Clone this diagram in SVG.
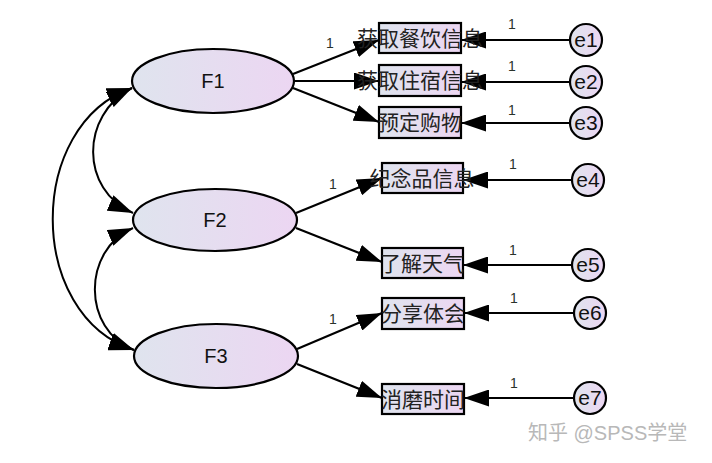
<svg xmlns="http://www.w3.org/2000/svg" width="712" height="463" viewBox="0 0 712 463">
<defs>
<linearGradient id="gf" x1="0" y1="0" x2="1" y2="0">
<stop offset="0" stop-color="#dfe4ee"/>
<stop offset="1" stop-color="#ecd6f2"/>
</linearGradient>
<marker id="ah" markerUnits="userSpaceOnUse" markerWidth="27" markerHeight="17" refX="25" refY="8.5" orient="auto-start-reverse" viewBox="0 0 27 17">
<path d="M0,0 L25,8.5 L0,17 z" fill="#000"/>
</marker>
<style>
.lat{fill:url(#gf);stroke:#000;stroke-width:2.2}
.box{fill:url(#gf);stroke:#000;stroke-width:2.2}
.err{fill:url(#gf);stroke:#000;stroke-width:2.2}
.lt{font-family:"Liberation Sans",Arial,sans-serif;font-size:20px;fill:#111;text-anchor:middle}
.bt{font-family:"Liberation Sans","Noto Sans CJK SC",sans-serif;font-size:21px;fill:#222;text-anchor:middle}
.et{font-family:"Liberation Sans",Arial,sans-serif;font-size:21px;fill:#111;text-anchor:middle}
.one{font-family:"Liberation Sans",Arial,sans-serif;font-size:14px;fill:#2a332a;text-anchor:middle}
.ln{fill:none;stroke:#000;stroke-width:2.2;marker-end:url(#ah)}
.cv{fill:none;stroke:#000;stroke-width:2;marker-start:url(#ah);marker-end:url(#ah)}
.wm{font-family:"Liberation Sans","Noto Sans CJK SC",sans-serif;font-size:20px;fill:#b8b8b8}
</style>
</defs>
<rect width="712" height="463" fill="#fff"/>
<g id="connectors">
<path class="cv" d="M132,88 C26,125 26,315 134,350"/>
<path class="cv" d="M132,88 C80,115 80,190 133,213"/>
<path class="cv" d="M133,228 C82,250 82,330 134,350"/>
<path class="ln" d="M293,74 L379,40"/>
<path class="ln" d="M295,81 L379,81"/>
<path class="ln" d="M293,88 L379,122"/>
<path class="ln" d="M296,213 L382,178"/>
<path class="ln" d="M296,228 L382,262"/>
<path class="ln" d="M297,349 L382,313"/>
<path class="ln" d="M297,364 L382,398"/>
<path class="ln" d="M570,40 L461,40"/>
<path class="ln" d="M570,82 L461,82"/>
<path class="ln" d="M570,123 L461,123"/>
<path class="ln" d="M572,180 L463,180"/>
<path class="ln" d="M572,265 L463,265"/>
<path class="ln" d="M574,313 L464,313"/>
<path class="ln" d="M574,398 L464,398"/>
<text class="one" x="330" y="48">1</text>
<text class="one" x="333" y="189">1</text>
<text class="one" x="333" y="324">1</text>
<text class="one" x="512" y="29">1</text>
<text class="one" x="512" y="71">1</text>
<text class="one" x="512" y="115">1</text>
<text class="one" x="513" y="169">1</text>
<text class="one" x="513" y="255">1</text>
<text class="one" x="514" y="303">1</text>
<text class="one" x="514" y="388">1</text>
</g>
<g id="F1"><ellipse class="lat" cx="213" cy="81" rx="81" ry="32"/><text class="lt" x="213" y="88">F1</text></g>
<g id="F2"><ellipse class="lat" cx="215" cy="220" rx="82" ry="31"/><text class="lt" x="215" y="227">F2</text></g>
<g id="F3"><ellipse class="lat" cx="216" cy="356" rx="82" ry="32"/><text class="lt" x="216" y="363">F3</text></g>
<g id="v1"><rect class="box" x="379" y="23" width="82" height="30"/><text class="bt" x="420" y="46">获取餐饮信息</text></g>
<g id="v2"><rect class="box" x="379" y="65" width="82" height="31"/><text class="bt" x="420" y="88">获取住宿信息</text></g>
<g id="v3"><rect class="box" x="379" y="107" width="82" height="31"/><text class="bt" x="420" y="130">预定购物</text></g>
<g id="v4"><rect class="box" x="382" y="163" width="81" height="30"/><text class="bt" x="422" y="186">纪念品信息</text></g>
<g id="v5"><rect class="box" x="382" y="248" width="81" height="30"/><text class="bt" x="422" y="271">了解天气</text></g>
<g id="v6"><rect class="box" x="382" y="298" width="82" height="31"/><text class="bt" x="423" y="321">分享体会</text></g>
<g id="v7"><rect class="box" x="382" y="384" width="82" height="30"/><text class="bt" x="423" y="407">消磨时间</text></g>
<g id="e1"><circle class="err" cx="586" cy="40" r="16"/><text class="et" x="586" y="47">e1</text></g>
<g id="e2"><circle class="err" cx="586" cy="82" r="16"/><text class="et" x="586" y="89">e2</text></g>
<g id="e3"><circle class="err" cx="586" cy="123" r="16"/><text class="et" x="586" y="130">e3</text></g>
<g id="e4"><circle class="err" cx="588" cy="180" r="16"/><text class="et" x="588" y="187">e4</text></g>
<g id="e5"><circle class="err" cx="588" cy="265" r="16"/><text class="et" x="588" y="272">e5</text></g>
<g id="e6"><circle class="err" cx="590" cy="313" r="16"/><text class="et" x="590" y="320">e6</text></g>
<g id="e7"><circle class="err" cx="590" cy="398" r="16"/><text class="et" x="590" y="405">e7</text></g>
<text class="wm" x="528" y="440">知乎 @SPSS学堂</text>
</svg>
